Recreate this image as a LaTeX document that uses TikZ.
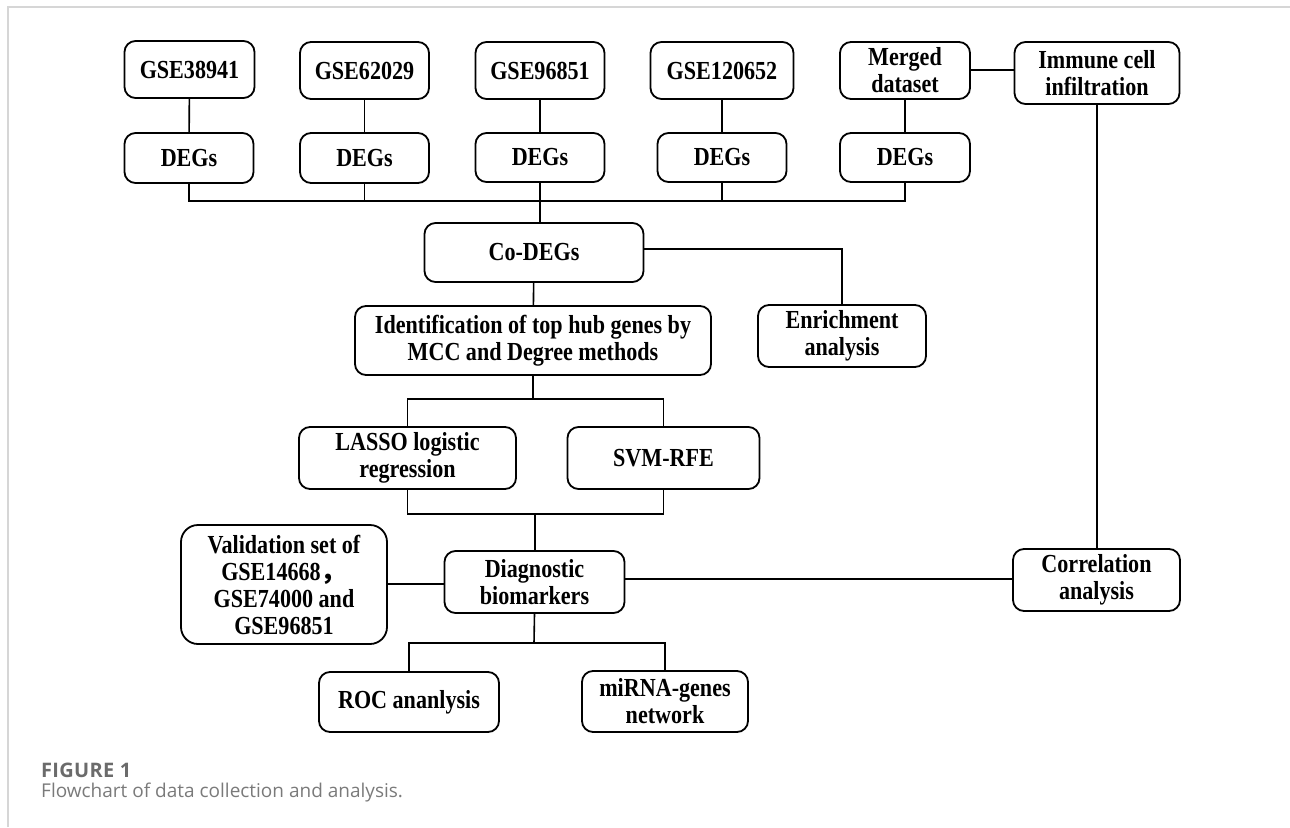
\documentclass[tikz,border=0pt]{standalone}
\usepackage{fontspec}
\setmainfont{Liberation Serif}[FakeStretch=0.85]
\newfontfamily\capfont{Open Sans}
\newfontfamily\figfont{Open Sans}[LetterSpace=1.5]
\newfontfamily\cjk{Noto Sans CJK SC}
\usetikzlibrary{positioning}

\begin{document}
\begin{tikzpicture}[
  x=1pt, y=-1pt,
  box/.style={draw, rounded corners=11pt, line width=1.8pt, align=center, inner sep=0pt,
    font=\fontsize{26}{27}\selectfont\bfseries},
  link/.style={line width=1.6pt},
  frame/.style={draw=black!16, line width=1.3pt},
  captext/.style={anchor=base west, inner sep=0pt, font=\capfont\fontsize{19}{22}\selectfont}
]
\useasboundingbox (0,0) rectangle (1290,827);
\draw[frame] (8,827) -- (8,7) -- (1290,7);

\node[box, minimum width=130pt, minimum height=57pt] (g1) at (189.5,69.5) {GSE38941};
\node[box, minimum width=129pt, minimum height=57pt] (g2) at (364.5,70.5) {GSE62029};
\node[box, minimum width=129pt, minimum height=57pt] (g3) at (540,70.5) {GSE96851};
\node[box, minimum width=143pt, minimum height=57pt] (g4) at (722,70.5) {GSE120652};
\node[box, minimum width=130pt, minimum height=57pt] (mrg) at (905,70.5) {Merged\\dataset};
\node[box, minimum width=165pt, minimum height=62pt] (imm) at (1097,73) {Immune cell\\infiltration};

\node[box, minimum width=129pt, minimum height=50pt] (d1) at (189,158) {DEGs};
\node[box, minimum width=129pt, minimum height=50pt] (d2) at (364.5,158) {DEGs};
\node[box, minimum width=129pt, minimum height=49pt] (d3) at (540,157.5) {DEGs};
\node[box, minimum width=129pt, minimum height=49pt] (d4) at (722,157.5) {DEGs};
\node[box, minimum width=130pt, minimum height=49pt] (d5) at (905,157.5) {DEGs};

\node[box, minimum width=219pt, minimum height=59pt] (codeg) at (534,252.5) {Co-DEGs};
\node[box, minimum width=356pt, minimum height=69pt] (ident) at (533,340.5) {Identification of top hub genes by\\MCC and Degree methods};
\node[box, minimum width=168pt, minimum height=62pt] (enr) at (842,336) {Enrichment\\analysis};
\node[box, minimum width=217pt, minimum height=62pt] (lasso) at (407.5,458) {LASSO logistic\\regression};
\node[box, minimum width=192pt, minimum height=62pt] (svm) at (663.5,458) {SVM-RFE};
\node[box, minimum width=180pt, minimum height=62pt] (diag) at (534.5,582) {Diagnostic\\biomarkers};
\node[box, rounded corners=17pt, minimum width=206pt, minimum height=119pt] (valid) at (284,584.5)
  {Validation set of\\GSE14668{\cjk ，}\\GSE74000 and\\GSE96851};
\node[box, minimum width=167pt, minimum height=62pt] (corr) at (1096.5,580) {Correlation\\analysis};
\node[box, minimum width=180pt, minimum height=60pt] (roc) at (409,702) {ROC ananlysis};
\node[box, minimum width=166pt, minimum height=61pt] (mirna) at (665,701.5) {miRNA-genes\\network};

\coordinate (bus) at (540,201);
\coordinate (s1) at (533,399);
\coordinate (s2) at (535,514);
\coordinate (s3) at (534,643);

\foreach \i in {1,...,4} \draw[link] (g\i) -- (d\i);
\draw[link] (mrg) -- (d5);
\draw[link] (mrg.east |- 0,70) -- (imm.west |- 0,70);
\draw[link] (d1.south) |- (bus) -| (d5.south);
\draw[link] (d2.south) -- (d2.south |- bus);
\draw[link] (d4.south) -- (d4.south |- bus);
\draw[link] (d3.south) -- (d3.south |- codeg.north);
\draw[link] (codeg.east |- 0,249) -| (enr.north);
\draw[link] (codeg) -- (ident);
\draw[link] (ident.south) -- (s1);
\draw[link] (lasso.north) |- (s1) -| (svm.north);
\draw[link] (lasso.south) |- (s2) -| (svm.south);
\draw[link] (s2) -- (s2 |- diag.north);
\draw[link] (valid.east |- 0,584) -- (diag.west |- 0,584);
\draw[link] (diag.east |- 0,579) -- (corr.west |- 0,579);
\draw[link] (imm.south -| 1097,0) -- (corr.north -| 1097,0);
\draw[link] (diag.south) -- (s3);
\draw[link] (roc.north) |- (s3) -| (mirna.north);

\node[captext, text=black!58, font=\figfont\bfseries\fontsize{20}{22}\selectfont] (fig) at (41,777) {FIGURE 1};
\node[captext, text=black!52] (title) at (41,797) {Flowchart of data collection and analysis.};
\end{tikzpicture}
\end{document}
